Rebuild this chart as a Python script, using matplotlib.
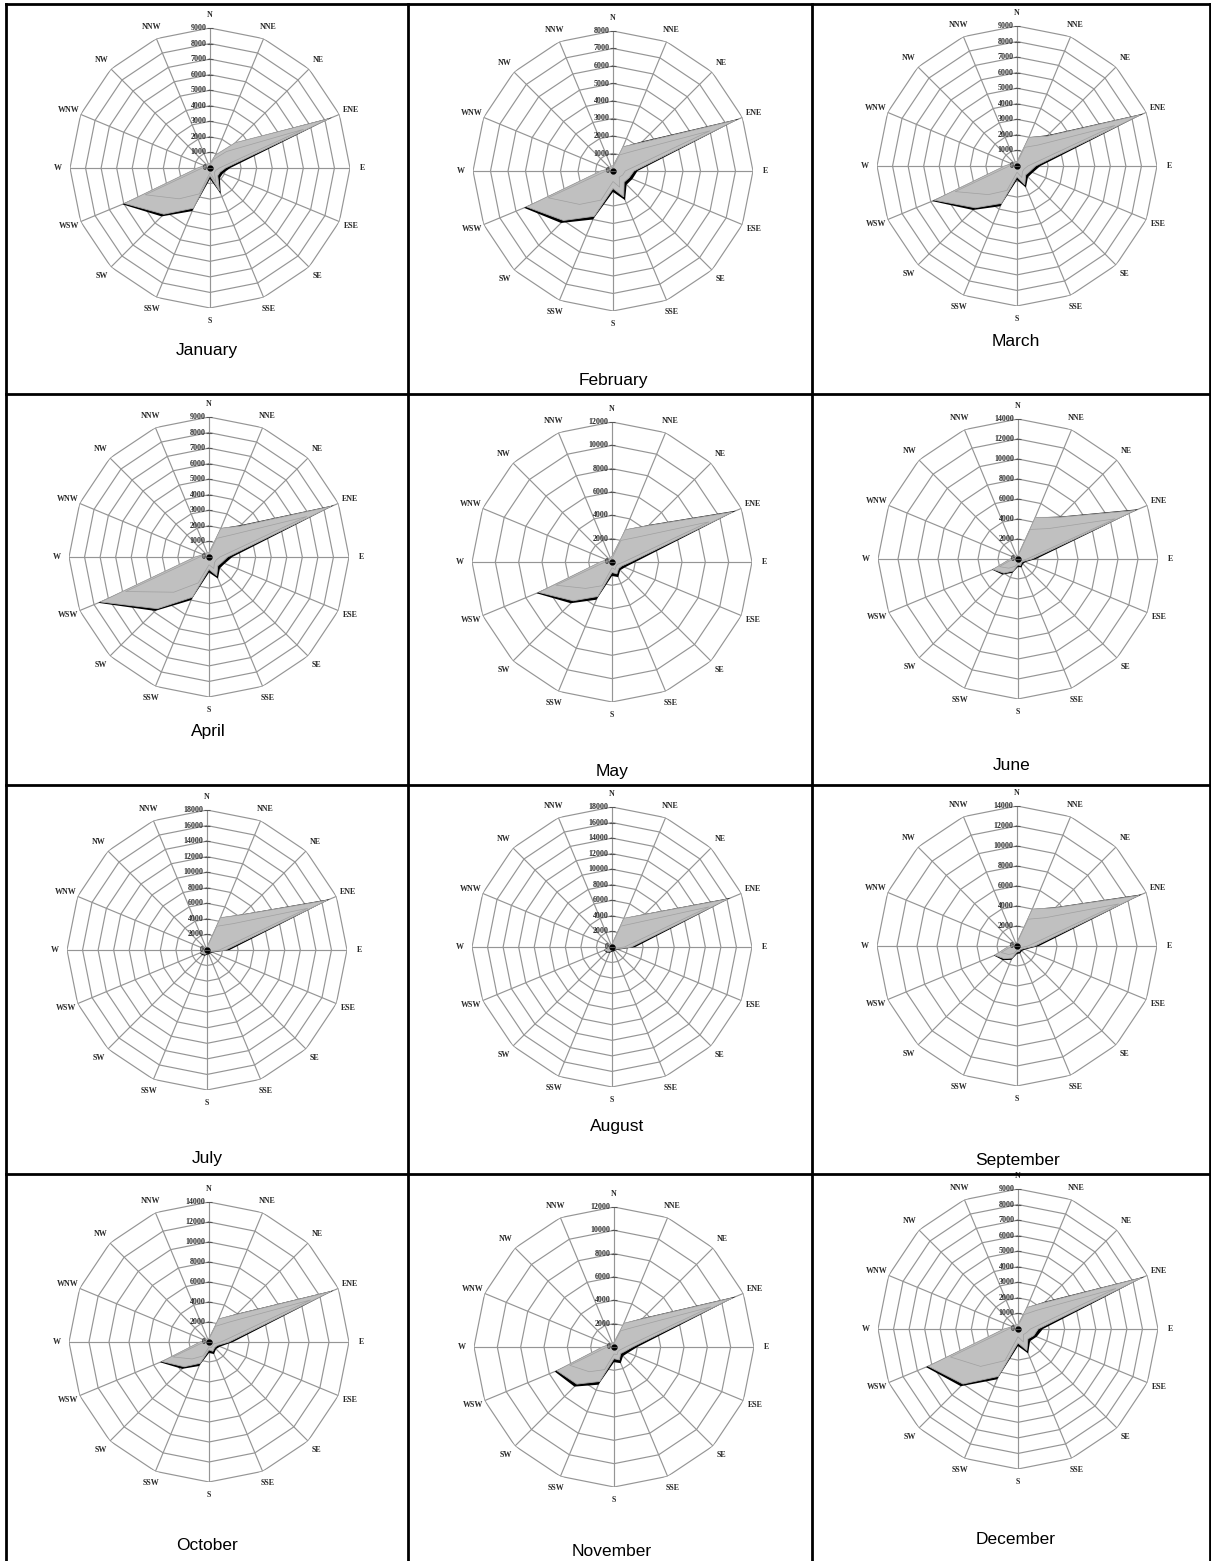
import numpy as np
import matplotlib.pyplot as plt
from matplotlib.lines import Line2D

W_PX, H_PX = 1211, 1561

directions = ['N', 'NNE', 'NE', 'ENE', 'E', 'ESE', 'SE', 'SSE',
              'S', 'SSW', 'SW', 'WSW', 'W', 'WNW', 'NW', 'NNW']
months = ['January', 'February', 'March', 'April', 'May', 'June',
          'July', 'August', 'September', 'October', 'November', 'December']

ring_step = [1000, 1000, 1000, 1000, 2000, 2000, 2000, 2000, 2000, 2000, 2000, 1000]
ring_max = [9000, 8000, 9000, 9000, 12000, 14000, 18000, 18000, 14000, 14000, 12000, 9000]

# per month: outer total (black), main series (grey), inner series (line only)
jan_total = [300, 900, 2300, 8500, 1300, 900, 900, 1800, 700, 3000, 4400, 6100, 800, 400, 300, 300]
jan_grey = [300, 900, 2300, 8300, 1000, 700, 700, 1600, 500, 2800, 4200, 5950, 800, 400, 300, 300]
jan_inner = [200, 600, 1500, 6500, 600, 400, 400, 1000, 300, 1800, 2800, 4500, 500, 300, 200, 200]

feb_total = [300, 1500, 2400, 7800, 1400, 1200, 1100, 1800, 1200, 3000, 4200, 5500, 700, 300, 300, 300]
feb_grey = [300, 1500, 2300, 7600, 1200, 1000, 900, 1600, 1000, 2800, 4000, 5350, 700, 300, 300, 300]
feb_inner = [200, 1000, 1600, 6000, 700, 600, 500, 1000, 600, 1800, 2700, 4000, 400, 200, 200, 200]

mar_total = [300, 2000, 2800, 8800, 1500, 1100, 1000, 1500, 900, 2800, 4000, 5900, 800, 400, 300, 300]
mar_grey = [300, 2000, 2700, 8600, 1200, 900, 800, 1300, 700, 2600, 3800, 5750, 800, 400, 300, 300]
mar_inner = [200, 1300, 1900, 6800, 700, 500, 500, 800, 400, 1700, 2600, 4300, 500, 300, 200, 200]

apr_total = [300, 2000, 2900, 8700, 1500, 1100, 1000, 1500, 1000, 3000, 4900, 7700, 900, 400, 300, 300]
apr_grey = [300, 2000, 2800, 8500, 1200, 900, 800, 1300, 800, 2800, 4700, 7550, 900, 400, 300, 300]
apr_inner = [200, 1300, 2000, 6800, 700, 500, 500, 800, 500, 1800, 3200, 5800, 600, 300, 200, 200]

may_total = [500, 3000, 4500, 11500, 2000, 1200, 1000, 1400, 1200, 3500, 5000, 7000, 1000, 500, 400, 400]
may_grey = [500, 3000, 4400, 11200, 1600, 900, 800, 1100, 900, 3200, 4700, 6800, 1000, 500, 400, 400]
may_inner = [300, 2000, 3000, 9000, 1000, 500, 500, 700, 500, 2200, 3200, 5200, 600, 300, 300, 300]

jun_total = [400, 4500, 6000, 13000, 1800, 800, 700, 900, 800, 1500, 2200, 2800, 800, 400, 300, 300]
jun_grey = [400, 4500, 5900, 12700, 1400, 600, 500, 700, 600, 1300, 2000, 2700, 800, 400, 300, 300]
jun_inner = [300, 3200, 4300, 10500, 900, 400, 300, 400, 400, 800, 1300, 2000, 500, 300, 200, 200]

jul_total = [400, 4500, 6500, 17100, 2900, 800, 600, 600, 600, 800, 900, 1000, 600, 400, 300, 300]
jul_grey = [400, 4500, 6400, 16700, 2400, 600, 400, 400, 400, 600, 700, 900, 600, 400, 300, 300]
jul_inner = [300, 3300, 4800, 14000, 1600, 400, 300, 300, 300, 400, 500, 600, 400, 300, 200, 200]

aug_total = [400, 4000, 6000, 16500, 3000, 900, 600, 600, 600, 800, 1000, 1100, 600, 400, 300, 300]
aug_grey = [400, 4000, 5900, 16100, 2500, 700, 400, 400, 400, 600, 800, 1000, 600, 400, 300, 300]
aug_inner = [300, 2900, 4400, 13500, 1600, 400, 300, 300, 300, 400, 500, 700, 400, 300, 200, 200]

sep_total = [400, 4000, 5500, 13500, 2200, 900, 700, 800, 800, 1500, 2000, 2500, 800, 400, 300, 300]
sep_grey = [400, 4000, 5400, 13200, 1800, 700, 500, 600, 600, 1300, 1800, 2400, 800, 400, 300, 300]
sep_inner = [300, 2900, 4000, 11000, 1100, 400, 300, 400, 400, 800, 1200, 1700, 500, 300, 200, 200]

oct_total = [400, 2500, 4000, 13500, 2400, 1200, 1000, 1300, 1100, 2600, 3800, 5300, 900, 400, 300, 300]
oct_grey = [400, 2500, 3900, 13200, 2000, 900, 800, 1000, 800, 2300, 3500, 5100, 900, 400, 300, 300]
oct_inner = [300, 1700, 2800, 11000, 1200, 500, 500, 600, 500, 1500, 2400, 3900, 500, 300, 200, 200]

nov_total = [400, 2200, 3500, 11300, 2000, 1300, 1100, 1500, 1300, 3500, 4800, 5500, 1000, 500, 400, 400]
nov_grey = [400, 2200, 3400, 11000, 1600, 1000, 800, 1200, 1000, 3200, 4500, 5300, 1000, 500, 400, 400]
nov_inner = [300, 1500, 2400, 9000, 1000, 600, 500, 700, 600, 2100, 3000, 4100, 600, 300, 300, 300]

dec_total = [300, 1500, 2500, 8800, 1600, 1300, 1100, 1700, 1100, 3500, 5200, 6400, 900, 400, 300, 300]
dec_grey = [300, 1500, 2400, 8600, 1300, 1100, 900, 1500, 900, 3300, 5000, 6250, 900, 400, 300, 300]
dec_inner = [200, 1000, 1700, 6800, 800, 600, 500, 900, 500, 2200, 3400, 4700, 600, 300, 200, 200]

totals = [jan_total, feb_total, mar_total, apr_total, may_total, jun_total,
          jul_total, aug_total, sep_total, oct_total, nov_total, dec_total]
greys = [jan_grey, feb_grey, mar_grey, apr_grey, may_grey, jun_grey,
         jul_grey, aug_grey, sep_grey, oct_grey, nov_grey, dec_grey]
inners = [jan_inner, feb_inner, mar_inner, apr_inner, may_inner, jun_inner,
          jul_inner, aug_inner, sep_inner, oct_inner, nov_inner, dec_inner]

# layout in pixels (x from left, y from top)
centers = [(210, 168), (613, 171), (1017, 166),
           (209, 557), (612, 562), (1018, 559),
           (207, 950), (612, 947), (1017, 946),
           (209, 1342), (614, 1347), (1018, 1329)]
label_pos = [(207, 350), (613, 380), (1016, 342),
             (208, 732), (612, 772), (1012, 766),
             (207, 1158), (617, 1126), (1018, 1161),
             (207, 1546), (612, 1552), (1016, 1540)]
RADIUS = 140
col_x = [6, 408, 812, 1210]
row_y = [4, 393.5, 784.5, 1173.7]

GRID = '#959595'
FILL = '#c0c0c0'
SMALL = dict(family='Liberation Serif', fontsize=5.8, color='#2a2a2a', fontweight='bold')

fig = plt.figure(figsize=(W_PX / 100, H_PX / 100), dpi=100)
fig.patch.set_facecolor('white')


def fx(x):
    return x / W_PX


def fy(y):
    return 1 - y / H_PX


# table borders
for x in col_x:
    fig.add_artist(Line2D([fx(x), fx(x)], [fy(row_y[0]), 0], color='black', lw=2))
for y in row_y:
    fig.add_artist(Line2D([fx(col_x[0]), fx(col_x[-1])], [fy(y), fy(y)], color='black', lw=2))

theta = np.deg2rad(np.arange(16) * 22.5)
theta_c = np.append(theta, theta[0])


def closed(v):
    v = list(v)
    return v + v[:1]


for i, name in enumerate(months):
    cx, cy = centers[i]
    ax = fig.add_axes([fx(cx - RADIUS), fy(cy + RADIUS), 2 * RADIUS / W_PX, 2 * RADIUS / H_PX],
                      projection='polar')
    ax.set_theta_zero_location('N')
    ax.set_theta_direction(-1)
    ax.axis('off')
    rmax = ring_max[i]
    ax.set_ylim(0, rmax)
    ticks = np.arange(ring_step[i], rmax + 1, ring_step[i])

    # polygon rings and spokes
    for r in ticks:
        ax.plot(theta_c, [r] * 17, color=GRID, lw=0.85, zorder=1)
    for t in theta:
        ax.plot([t, t], [0, rmax], color=GRID, lw=0.85, zorder=1)

    # series
    ax.fill(theta_c, closed(totals[i]), facecolor='black', edgecolor='none', zorder=2)
    ax.fill(theta_c, closed(greys[i]), facecolor=FILL, edgecolor='#a8a8a8', lw=0.6, zorder=3)
    ax.plot(theta_c, closed(inners[i]), color='#a0a0a0', lw=0.5, zorder=4)
    ax.plot([0], [0], marker='o', ms=3.5, color='black', zorder=5)

    # value axis along N
    for r in np.append(0, ticks):
        ax.plot([0], [r], marker='_', ms=4, mew=0.8, color='#555555', zorder=5, clip_on=False)
        ax.annotate(f'{int(r)}', xy=(0, r), xytext=(-2.5, 0), textcoords='offset points',
                    ha='right', va='center', annotation_clip=False, **SMALL)

    # direction labels
    for t, d in zip(theta, directions):
        ax.text(t, rmax * 1.09, d, ha='center', va='center', clip_on=False, **SMALL)

    lx, ly = label_pos[i]
    fig.text(fx(lx), fy(ly), name, ha='center', va='center',
             family='Liberation Sans', fontsize=12.5, color='black')

fig.savefig('out.png', dpi=100, facecolor='white')
